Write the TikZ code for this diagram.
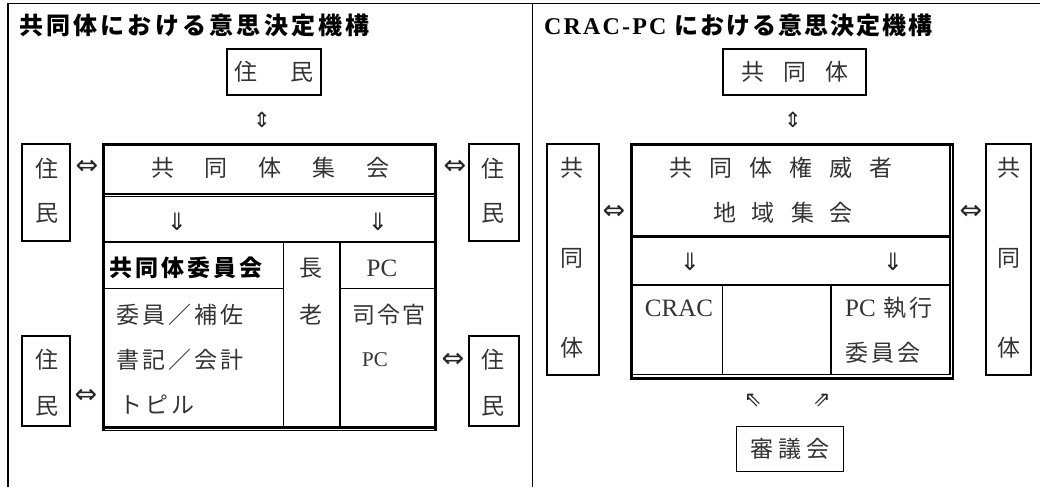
\documentclass[tikz,border=0pt]{standalone}
\usepackage{fontspec}
\setmainfont{Liberation Serif}
\newfontfamily\jp{Noto Sans CJK JP}
\newfontfamily\arw{DejaVu Sans}
\newcommand\gp[1]{\hspace{#1pt}}
\begin{document}
\begin{tikzpicture}[x=1pt,y=-1pt,
  frame/.style={line width=1.8pt},
  sbox/.style={draw=black, line width=1.8pt, inner sep=0pt},
  jt/.style={inner sep=0pt, text=black!80, font=\jp\fontsize{23}{23}\selectfont},
  lt/.style={inner sep=0pt, text=black!80, font=\fontsize{25}{25}\selectfont},
  ar/.style={inner sep=0pt, text=black!85, font=\arw\fontsize{27}{27}\selectfont},
  dar/.style={inner sep=0pt, text=black!85, font=\arw\fontsize{24}{24}\selectfont},
  sar/.style={inner sep=0pt, text=black!85, font=\arw\fontsize{21}{21}\selectfont},
  ttl/.style={inner sep=0pt, anchor=west, text=black, font=\jp\bfseries\fontsize{24}{24}\selectfont},
  thk/.style={line width=3pt},
  thn/.style={line width=1.1pt},
  mid/.style={line width=1.5pt}]
\useasboundingbox (0,0) rectangle (1040,487);
% outer frame
\draw[frame] (7,3.5) -- (1040,3.5);
\draw[frame] (8,3.5) -- (8,487);
\draw[frame] (532.5,3.5) -- (532.5,487);

% ================= left half =================
\node[ttl] (titleL) at (19,25) {共\gp{3.2}同\gp{3.2}体\gp{3.2}に\gp{3.2}お\gp{3.2}け\gp{3.2}る\gp{3.2}意\gp{3.2}思\gp{3.2}決\gp{3.2}定\gp{3.2}機\gp{3.2}構};
\node[sbox,jt,minimum width=94pt,minimum height=46pt] (topL) at (274,72) {住\gp{33}民};
\node[sar] (udL) at (262,120) {⇕};

% side boxes
\node[sbox,minimum width=48pt,minimum height=97pt] (ulB) at (46,192.5) {};
\node[jt] (ul1) at (47,169) {住};
\node[jt] (ul2) at (47,213) {民};
\node[sbox,minimum width=50pt,minimum height=97pt] (urB) at (494,192.5) {};
\node[jt] (ur1) at (493,169) {住};
\node[jt] (ur2) at (493,213) {民};
\node[sbox,minimum width=48pt,minimum height=90pt] (llB) at (46,381) {};
\node[jt] (ll1) at (47,360) {住};
\node[jt] (ll2) at (47,406) {民};
\node[sbox,minimum width=50pt,minimum height=90pt] (lrB) at (494,381) {};
\node[jt] (lr1) at (493,360) {住};
\node[jt] (lr2) at (493,406) {民};

\node[ar] (lrA1) at (87,167) {⇔};
\node[ar] (lrA2) at (455,167) {⇔};
\node[ar] (lrA3) at (86,396) {⇔};
\node[ar] (lrA4) at (453,360) {⇔};

% table
\draw[thk] (103,431.3) -- (103,144.5) -- (435,144.5) -- (435,431.3);
\draw[thk,line width=2.6pt] (103,427.3) -- (435,427.3);
\draw[thn] (101.5,430.7) -- (436.5,430.7);
\draw[line width=2pt] (104.5,193.6) -- (433.5,193.6);
\draw[thn] (104.5,196.2) -- (433.5,196.2);
\draw[mid] (104.5,241.8) -- (433.5,241.8);
\draw[mid] (283.3,241.8) -- (283.3,426);
\draw[mid] (340,241.8) -- (340,426);
\draw[mid] (104.5,288.3) -- (283.3,288.3);
\draw[mid] (340,288.3) -- (433.5,288.3);

\node[jt] (kyo) at (270.5,168) {共\gp{31}同\gp{31}体\gp{31}集\gp{31}会};
\node[dar] (dL1) at (177,222) {⇓};
\node[dar] (dL2) at (378,222) {⇓};
\node[anchor=west, inner sep=0pt, text=black, font=\jp\bfseries\fontsize{23}{23}\selectfont] (iin) at (109,268) {共\gp{3}同\gp{3}体\gp{3}委\gp{3}員\gp{3}会};
\node[jt] (cho) at (311,268) {長};
\node[jt] (ro) at (311,315) {老};
\node[lt] (pc1) at (382,268) {PC};
\node[jt,anchor=west] (r1) at (116,315) {委\gp{3}員\gp{3}／\gp{3}補\gp{3}佐};
\node[jt,anchor=west] (r2) at (116,360) {書\gp{3}記\gp{3}／\gp{3}会\gp{3}計};
\node[jt,anchor=west] (r3) at (119,405) {ト\gp{3}ピ\gp{3}ル};
\node[jt,anchor=west] (r4) at (352,315) {司\gp{2}令\gp{2}官};
\node[lt,anchor=west,font=\fontsize{21}{21}\selectfont] (r5) at (362,360) {PC};

% ================= right half =================
\node[ttl,font=\fontsize{24}{24}\selectfont] (titleR) at (544,25) {{\bfseries\addfontfeature{LetterSpace=9}CRAC-PC}\gp{8}{\jp\bfseries に\gp{2}お\gp{2}け\gp{2}る\gp{2}意\gp{2}思\gp{2}決\gp{2}定\gp{2}機\gp{2}構}};
\node[sbox,jt,minimum width=143pt,minimum height=46pt] (topR) at (794.5,72) {共\gp{19}同\gp{19}体};
\node[sar] (udR) at (793,120) {⇕};

\node[sbox,minimum width=52pt,minimum height=231pt] (rlB) at (573,259.5) {};
\node[jt] (rl1) at (572,168) {共};
\node[jt] (rl2) at (572,258) {同};
\node[jt] (rl3) at (572,348) {体};
\node[sbox,minimum width=45pt,minimum height=231pt] (rrB) at (1008.5,259.5) {};
\node[jt] (rr1) at (1008.5,168) {共};
\node[jt] (rr2) at (1008.5,258) {同};
\node[jt] (rr3) at (1008.5,348) {体};

\node[ar] (rA1) at (614,212) {⇔};
\node[ar] (rA2) at (971,212) {⇔};

% table
\draw[thk] (953.3,144.5) -- (631.7,144.5) -- (631.7,379.5);
\draw[line width=2.2pt] (953.3,143) -- (953.3,379.5);
\draw[line width=2.5pt] (630.2,378.3) -- (954.4,378.3);
\draw[thn] (950,146) -- (950,374.5);
\draw[thn] (633,374.5) -- (950,374.5);
\draw[line width=3.3pt] (633,236.7) -- (950,236.7);
\draw[mid] (633,285) -- (950,285);
\draw[mid] (722.7,285) -- (722.7,374.5);
\draw[mid] (831,285) -- (831,374.5);

\node[jt] (auth) at (781,168) {共\gp{17}同\gp{17}体\gp{17}権\gp{17}威\gp{17}者};
\node[jt] (chiiki) at (783,213) {地\gp{16}域\gp{16}集\gp{16}会};
\node[dar] (dR1) at (690,262) {⇓};
\node[dar] (dR2) at (893,262) {⇓};
\node[lt] (crac) at (679,308) {CRAC};
\node[lt,anchor=west] (pcx) at (845,308) {PC\gp{8}{\jp\fontsize{23}{23}\selectfont 執\gp{3}行}};
\node[jt,anchor=west] (iinkai) at (845,353) {委\gp{3}員\gp{3}会};
\node[sar] (nw) at (753,401) {⇖};
\node[sar] (ne) at (822,401) {⇗};
\node[sbox,jt,minimum width=107pt,minimum height=45pt] (shingi) at (790,449) {審\gp{5}議\gp{5}会};
\end{tikzpicture}
\end{document}
